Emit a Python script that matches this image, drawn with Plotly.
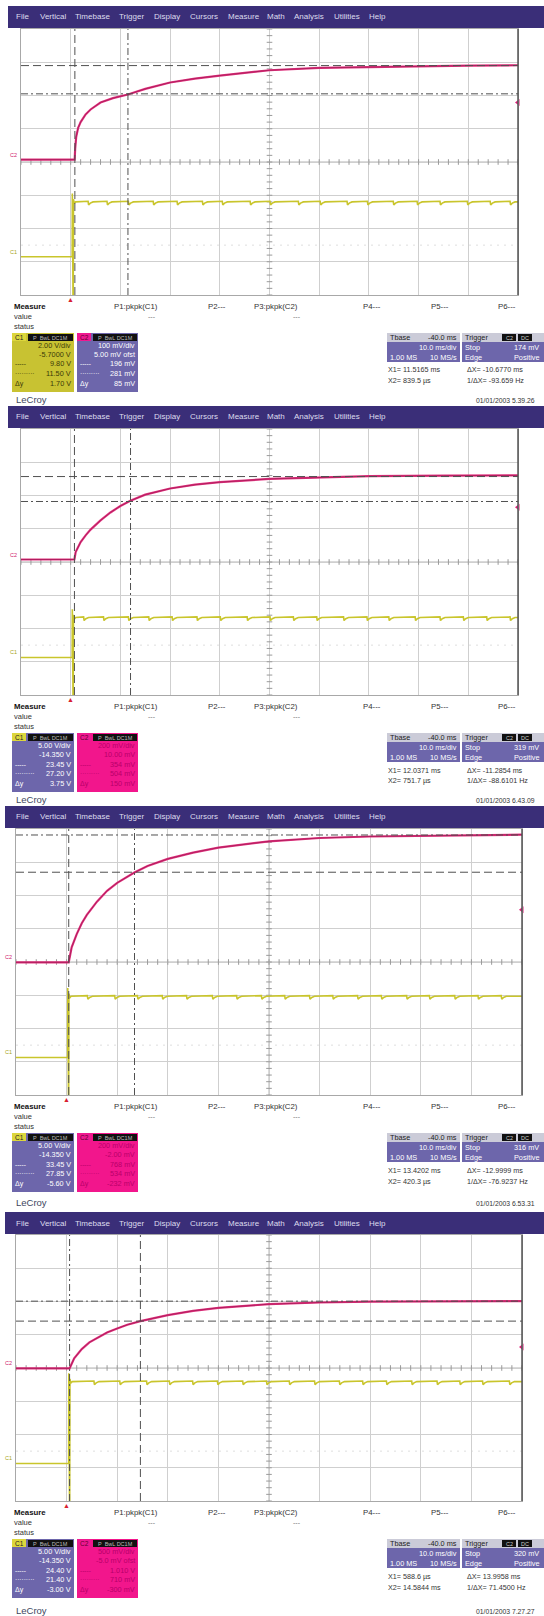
import plotly.graph_objects as go

W, H = 544, 1616
FONT = "Liberation Sans, Arial, sans-serif"

# ---------------- data ----------------
menu_items = ["File", "Vertical", "Timebase", "Trigger", "Display", "Cursors",
              "Measure", "Math", "Analysis", "Utilities", "Help"]
measure_labels = ["P1:pkpk(C1)", "P2---", "P3:pkpk(C2)", "P4---", "P5---", "P6---"]
dates = ["01/01/2003 5.39.26", "01/01/2003 6.43.09", "01/01/2003 6.53.31", "01/01/2003 7.27.27"]

c1_vdiv = [2.0, 5.0, 5.0, 5.0]            # V/div
c1_offset = [-5.7, -14.35, -14.35, -14.35]  # V
c2_vdiv = [100.0, 200.0, 200.0, 500.0]      # mV/div
c2_offset = [5.0, 10.0, -2.0, -5.0]         # mV
t_delay = -40.0                             # ms
t_div = 10.0                                # ms/div

cursor_x1 = [11.5165, 12.0371, 13.4202, 0.5886]   # ms
cursor_x2 = [0.8395, 0.7517, 0.4203, 14.5844]     # ms
c1_cur_a = [9.80, 23.45, 33.45, 24.40]            # V
c1_cur_b = [11.50, 27.20, 27.85, 21.40]           # V
trig_level = [174.0, 319.0, 316.0, 320.0]         # mV

# C1 (yellow) : step levels, ripple dips
c1_level = [3.3, 6.0, 9.2, 12.3]
c1_step_t = [0.3, 0.3, 0.2, 0.4]
c1_spike_low = [-4.0, -9.0, -9.0, -9.0]
c1_ripple_depth = [0.18, 0.45, 0.45, 0.45]
c1_ripple_t = [
    [3.6, 7.4, 11.7, 16.7, 21.5, 26.6, 30.6, 36.2, 40.2, 45.9, 50.3, 55.7, 59.8, 65.0, 69.8, 74.4, 79.9, 84.5, 88.5],
    [2.7, 6.7, 11.7, 15.8, 20.5, 25.5, 30.2, 35.6, 40.2, 44.9, 49.6, 55.0, 59.7, 64.1, 69.4, 74.4, 79.1, 83.8, 88.5],
    [4.2, 9.6, 14.1, 19.0, 23.8, 28.9, 33.7, 38.6, 43.2, 48.1, 52.7, 57.6, 62.3, 67.3, 71.8, 76.8, 81.4, 86.0],
    [5.5, 10.6, 15.9, 20.4, 25.0, 29.9, 34.9, 39.6, 44.1, 49.1, 54.0, 58.6, 63.3, 68.3, 73.3, 77.8, 82.3, 87.6],
]

# C2 (magenta) : charging curves, mV
c2_t = [
    [-10, 0.8, 0.9, 1.1, 1.5, 2, 3, 4, 6, 8.5, 11.5, 15, 20, 25, 30, 40, 50, 60, 70, 80, 90],
    [-10, 0.75, 1, 2, 3, 4, 6, 8, 10, 12, 15, 20, 25, 30, 40, 50, 60, 75, 90],
    [-10, 0.42, 1, 2, 3, 4, 6, 8, 10, 13.4, 16, 20, 25, 30, 40, 50, 60, 75, 90],
    [-10, 0.6, 1.5, 3, 4.5, 6.6, 8, 10, 12, 14.6, 20, 25, 30, 40, 50, 60, 75, 90],
]
c2_v = [
    [2, 2, 35, 70, 98, 115, 138, 153, 174, 187, 198, 215, 234, 246, 255, 271, 278, 281, 284, 285, 286],
    [5, 5, 50, 110, 150, 185, 240, 288, 327, 358, 395, 432, 455, 470, 490, 500, 506, 509, 511],
    [0, 0, 90, 170, 235, 285, 365, 430, 478, 540, 580, 622, 660, 690, 728, 748, 757, 764, 768],
    [0, 0, 150, 290, 390, 480, 540, 600, 655, 710, 800, 865, 910, 965, 990, 1002, 1008, 1010],
]

c1_box_rows = [
    ["2.00 V/div", "-5.7000 V", "9.80 V", "11.50 V", "1.70 V"],
    ["5.00 V/div", "-14.350 V", "23.45 V", "27.20 V", "3.75 V"],
    ["5.00 V/div", "-14.350 V", "33.45 V", "27.85 V", "-5.60 V"],
    ["5.00 V/div", "-14.350 V", "24.40 V", "21.40 V", "-3.00 V"],
]
c2_box_rows = [
    ["100 mV/div", "5.00 mV ofst", "196 mV", "281 mV", "85 mV"],
    ["200 mV/div", "10.00 mV", "354 mV", "504 mV", "150 mV"],
    ["200 mV/div", "-2.00 mV", "768 mV", "534 mV", "-232 mV"],
    ["500 mV/div", "-5.0 mV ofst", "1.010 V", "710 mV", "-300 mV"],
]
trig_stop_txt = ["174 mV", "319 mV", "316 mV", "320 mV"]
x1_txt = ["11.5165 ms", "12.0371 ms", "13.4202 ms", "588.6 µs"]
x2_txt = ["839.5 µs", "751.7 µs", "420.3 µs", "14.5844 ms"]
dx_txt = ["-10.6770 ms", "-11.2854 ms", "-12.9999 ms", "13.9958 ms"]
idx_txt = ["-93.659 Hz", "-88.6101 Hz", "-76.9237 Hz", "71.4500 Hz"]

# ---------------- layout constants ----------------
panel_top = [6, 406, 806, 1212]
grid_left = [21, 21, 16, 16]
grid_right = [518, 518, 522, 522]
bar_left = [8, 8, 5, 5]
foot_y = [393, 393, 396, 398]
menu_x = [15, 39, 74, 118, 153, 189, 227, 266, 293, 333, 368]
meas_x = [113, 207, 253, 362, 430, 497]

MENU = "#3a2e78"
BOXP = "#6d66ab"
MAG = "#f2168c"
YEL = "#c8c232"
GRID = "#cfcfcf"
C1COL = "#c9c52c"
C2COL = "#e2347f"
C2CORE = "#9c1450"


def X(p):
    return p / W


def Y(p):
    return 1 - p / H


shapes = []
annotations = []


def rect(x0, y0, x1, y1, color):
    shapes.append(dict(type="rect", xref="paper", yref="paper", x0=X(x0), x1=X(x1),
                       y0=Y(y1), y1=Y(y0), fillcolor=color, line=dict(width=0), layer="above"))


def text(x, y, s, size=7.5, color="#222", anchor="left", bold=False):
    annotations.append(dict(xref="paper", yref="paper", x=X(x), y=Y(y),
                            text=("<b>%s</b>" % s) if bold else s, showarrow=False,
                            xanchor=anchor, yanchor="middle", borderpad=0,
                            font=dict(size=size, color=color, family=FONT)))


fig = go.Figure()
layout = dict(width=W, height=H, margin=dict(l=0, r=0, t=0, b=0, autoexpand=False),
              paper_bgcolor="white", plot_bgcolor="white", showlegend=False)

for i in range(4):
    n = i + 1
    T = panel_top[i]
    gx0, gx1 = grid_left[i], grid_right[i]
    gy0, gy1 = T + 23, T + 289
    xname = "x" if n == 1 else "x%d" % n
    y1name = "y" if n == 1 else "y%d" % (2 * n - 1)
    y2name = "y%d" % (2 * n)
    xkey = "xaxis" if n == 1 else "xaxis%d" % n
    y1key = "yaxis" if n == 1 else "yaxis%d" % (2 * n - 1)
    y2key = "yaxis%d" % (2 * n)

    s1 = c1_vdiv[i]
    c1c = -c1_offset[i]
    s2 = c2_vdiv[i]
    c2c = -c2_offset[i]
    t_lo = t_delay + 3 * t_div   # trigger sits one division from the left edge
    t_hi = t_lo + 10 * t_div

    layout[xkey] = dict(domain=[X(gx0), X(gx1)], range=[t_lo, t_hi], anchor=y1name,
                        dtick=t_div, tick0=0, showgrid=True, gridcolor=GRID, gridwidth=1,
                        zeroline=False, showticklabels=False, ticks="", showline=True,
                        linecolor="#a8a8a8", mirror=True, fixedrange=True)
    layout[y1key] = dict(domain=[Y(gy1), Y(gy0)], range=[c1c - 4 * s1, c1c + 4 * s1],
                         anchor=xname, dtick=s1, tick0=c1c, showgrid=True, gridcolor=GRID,
                         gridwidth=1, zeroline=False, showticklabels=False, ticks="",
                         showline=True, linecolor="#a8a8a8", mirror=True, fixedrange=True)
    layout[y2key] = dict(overlaying=y1name, range=[c2c - 4 * s2, c2c + 4 * s2],
                         anchor=xname, visible=False, showgrid=False, zeroline=False,
                         fixedrange=True)

    # faint dotted line
    shapes.append(dict(type="line", xref="%s domain" % xname, yref=y1name, x0=0, x1=1,
                       y0=c1c - 2.5 * s1, y1=c1c - 2.5 * s1,
                       line=dict(color="#dedede", width=1, dash="2px,5px"), layer="below"))
    # darker right border
    shapes.append(dict(type="line", xref="%s domain" % xname, yref="%s domain" % y1name,
                       x0=1, x1=1, y0=0, y1=1, line=dict(color="#555", width=1.5)))

    # center axes with minor ticks
    cx = [t_lo + 0.2 * t_div * k for k in range(51)]
    fig.add_trace(go.Scatter(x=cx, y=[c1c] * len(cx), xaxis=xname, yaxis=y1name, mode="markers",
                             marker=dict(symbol="line-ns", size=4, line=dict(width=1, color="#9a9a9a")),
                             hoverinfo="skip"))
    cy = [c1c - 4 * s1 + 0.2 * s1 * k for k in range(41)]
    tc = t_lo + 5 * t_div
    fig.add_trace(go.Scatter(x=[tc] * len(cy), y=cy, xaxis=xname, yaxis=y1name, mode="markers",
                             marker=dict(symbol="line-ew", size=4, line=dict(width=1, color="#9a9a9a")),
                             hoverinfo="skip"))
    shapes.append(dict(type="line", xref=xname, yref="%s domain" % y1name, x0=tc, x1=tc, y0=0, y1=1,
                       line=dict(color="#b5b5b5", width=1), layer="below"))
    shapes.append(dict(type="line", xref="%s domain" % xname, yref=y1name, x0=0, x1=1, y0=c1c, y1=c1c,
                       line=dict(color="#b5b5b5", width=1), layer="below"))

    # cursors
    shapes.append(dict(type="line", xref=xname, yref="%s domain" % y1name, x0=cursor_x1[i], x1=cursor_x1[i],
                       y0=0, y1=1, line=dict(color="#505050", width=1, dash="7px,3px,2px,3px")))
    shapes.append(dict(type="line", xref=xname, yref="%s domain" % y1name, x0=cursor_x2[i], x1=cursor_x2[i],
                       y0=0, y1=1, line=dict(color="#505050", width=1, dash="8px,4px")))
    shapes.append(dict(type="line", xref="%s domain" % xname, yref=y1name, x0=0, x1=1,
                       y0=c1_cur_a[i], y1=c1_cur_a[i], line=dict(color="#505050", width=1, dash="7px,3px,2px,3px")))
    shapes.append(dict(type="line", xref="%s domain" % xname, yref=y1name, x0=0, x1=1,
                       y0=c1_cur_b[i], y1=c1_cur_b[i], line=dict(color="#505050", width=1, dash="8px,4px")))

    # C1 trace
    L = c1_level[i]
    ts = c1_step_t[i]
    d = c1_ripple_depth[i]
    tt = [t_lo - 2, ts]
    vv = [0.0, 0.0]
    tt += [ts + 0.03, ts + 0.08, ts + 0.14, ts + 0.2, ts + 0.26, ts + 0.4, ts + 0.7]
    vv += [L + 0.25 * s1, c1_spike_low[i], L + 0.12 * s1, c1_spike_low[i], L + 0.08 * s1, L - 0.05 * s1, L]
    for r in c1_ripple_t[i]:
        tt += [r - 0.35, r - 0.1, r, r + 0.35, r + 0.9]
        vv += [L, L + 0.2 * d, L - d, L - 0.4 * d, L]
    tt += [t_hi]
    vv += [L]
    fig.add_trace(go.Scatter(x=tt, y=vv, xaxis=xname, yaxis=y1name, mode="lines",
                             line=dict(color=C1COL, width=1.6), hoverinfo="skip", cliponaxis=True))

    # C2 trace
    fig.add_trace(go.Scatter(x=[t_lo - 2] + c2_t[i][1:], y=c2_v[i], xaxis=xname, yaxis=y2name, mode="lines",
                             line=dict(color=C2COL, width=2.2), hoverinfo="skip"))
    fig.add_trace(go.Scatter(x=[t_lo - 2] + c2_t[i][1:], y=c2_v[i], xaxis=xname, yaxis=y2name, mode="lines",
                             line=dict(color=C2CORE, width=0.7), hoverinfo="skip"))
    # trigger level marker
    fig.add_trace(go.Scatter(x=[t_hi], y=[trig_level[i]], xaxis=xname, yaxis=y2name, mode="markers",
                             marker=dict(symbol="triangle-left", size=6, color="#e0207a"),
                             cliponaxis=False, hoverinfo="skip"))
    # trigger position marker
    annotations.append(dict(xref=xname, yref="paper", x=0, y=Y(T + 293), text="▲", showarrow=False,
                            font=dict(size=7, color="#d82030", family=FONT), yanchor="middle"))
    # channel labels
    annotations.append(dict(xref="paper", yref=y2name, x=X(gx0 - 2), y=c2_v[i][0] + 0.15 * s2, text="C2",
                            showarrow=False, xanchor="right", font=dict(size=5.5, color="#d0206e", family=FONT)))
    annotations.append(dict(xref="paper", yref=y1name, x=X(gx0 - 2), y=0.15 * s1, text="C1",
                            showarrow=False, xanchor="right", font=dict(size=5.5, color="#a8a420", family=FONT)))

    # menu bar
    rect(bar_left[i], T, W, T + 22, MENU)
    for item, mx in zip(menu_items, menu_x):
        text(mx, T + 11, item, 8, "#dddcee")

    # measure row
    text(13, T + 300, "Measure", 7.8, "#111", bold=True)
    text(13, T + 310.5, "value", 7.5, "#333")
    text(13, T + 320.5, "status", 7.5, "#333")
    for lab, mx in zip(measure_labels, meas_x):
        text(mx, T + 300, lab, 7.8, "#333")
    text(152, T + 310.5, "---", 7, "#777", anchor="center")
    text(297, T + 310.5, "---", 7, "#777", anchor="center")

    # channel boxes
    by0, by1 = T + 327, T + 386
    row_y = [T + 339, T + 348.5, T + 358, T + 367.5, T + 377.5]
    # C1 box
    if i == 0:
        rect(12, by0, 74, by1, YEL)
        c1txt = "#3c3a08"
    else:
        rect(12, by0, 74, by1, BOXP)
        c1txt = "#ffffff"
    rect(12, by0, 26, by0 + 8, "#dcd63c")
    text(14, by0 + 4, "C1", 6.5, "#222")
    rect(28, by0 + 1, 73, by0 + 8, "#111")
    text(50, by0 + 4.5, "P  BwL DC1M", 5.5, "#bbbbbb", anchor="center")
    for k, val in enumerate(c1_box_rows[i]):
        text(72, row_y[k], val, 7.3, c1txt, anchor="right")
    text(14, row_y[2], "-----", 6.5, c1txt)
    text(14, row_y[3], "·········", 6.5, c1txt)
    text(14, row_y[4], "Δy", 7, c1txt)
    # C2 box
    if i == 0:
        rect(77, by0, 138, by1, BOXP)
        c2txt = "#ffffff"
    else:
        rect(77, by0, 138, by1, MAG)
        c2txt = "#b8006a"
    rect(77, by0, 91, by0 + 8, "#f01890")
    text(79, by0 + 4, "C2", 6.5, "#600030")
    rect(93, by0 + 1, 137, by0 + 8, "#111")
    text(115, by0 + 4.5, "P  BwL DC1M", 5.5, "#bbbbbb", anchor="center")
    for k, val in enumerate(c2_box_rows[i]):
        text(136, row_y[k], val, 7.3, c2txt, anchor="right")
    text(79, row_y[2], "-----", 6.5, c2txt)
    text(79, row_y[3], "·········", 6.5, c2txt)
    text(79, row_y[4], "Δy", 7, c2txt)

    # timebase / trigger boxes
    tb0, tb1 = T + 327, T + 356
    rect(387, tb0, 460, tb1, BOXP)
    rect(387, tb0, 460, tb0 + 9, "#cbcbd8")
    text(389, tb0 + 4.5, "Tbase", 7.3, "#222")
    text(458, tb0 + 4.5, "%.1f ms" % t_delay, 7.3, "#222", anchor="right")
    text(458, tb0 + 14.5, "%.1f ms/div" % t_div, 7.3, "#fff", anchor="right")
    text(389, tb0 + 24, "1.00 MS", 7.3, "#fff")
    text(458, tb0 + 24, "10 MS/s", 7.3, "#fff", anchor="right")
    rect(462, tb0, 560, tb1, BOXP)
    rect(462, tb0, 560, tb0 + 9, "#cbcbd8")
    text(464, tb0 + 4.5, "Trigger", 7.3, "#222")
    rect(502, tb0 + 1, 516, tb0 + 8, "#111")
    rect(518, tb0 + 1, 532, tb0 + 8, "#111")
    text(509, tb0 + 4.5, "C2", 5.5, "#ccc", anchor="center")
    text(525, tb0 + 4.5, "DC", 5.5, "#ccc", anchor="center")
    text(464, tb0 + 14.5, "Stop", 7.3, "#fff")
    text(540, tb0 + 14.5, trig_stop_txt[i], 7.3, "#fff", anchor="right")
    text(464, tb0 + 24, "Edge", 7.3, "#fff")
    text(541, tb0 + 24, "Positive", 7.3, "#fff", anchor="right")
    text(387, T + 364, "X1= " + x1_txt[i], 7.2, "#333")
    text(387, T + 375, "X2= " + x2_txt[i], 7.2, "#333")
    text(466, T + 364, "ΔX= " + dx_txt[i], 7.2, "#333")
    text(466, T + 375, "1/ΔX= " + idx_txt[i], 7.2, "#333")

    # footer
    text(15, T + foot_y[i], "LeCroy", 9.5, "#40465e")
    text(536, T + foot_y[i] + 1, dates[i], 6.8, "#333", anchor="right")

layout["shapes"] = shapes
layout["annotations"] = annotations
fig.update_layout(**layout)
fig.write_html("out.html", config={"displayModeBar": False, "staticPlot": True},
               post_script="document.body.style.margin='0';document.body.style.overflow='hidden';")
